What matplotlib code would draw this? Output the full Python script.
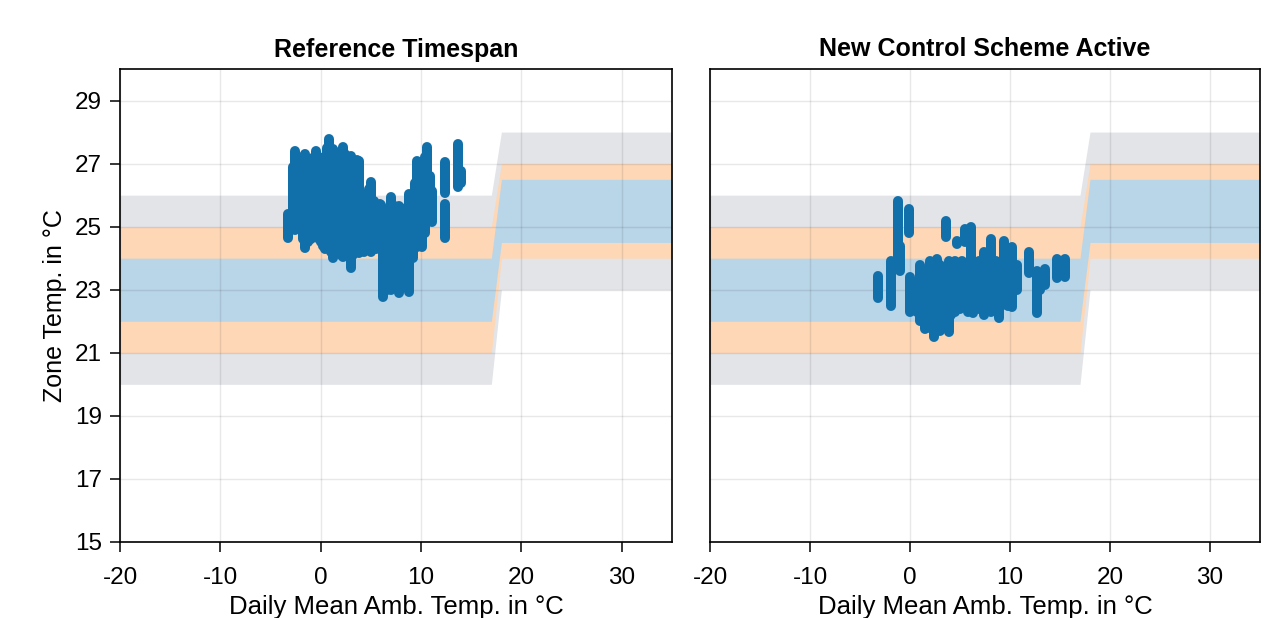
import matplotlib
matplotlib.use("Agg")
import matplotlib.pyplot as plt

plt.rcParams['font.family'] = ['Liberation Sans', 'DejaVu Sans']

# Comfort bands (ambient temp breakpoints)
band_x = [-20, 17, 18, 35]
gray_lo = [20, 20, 23, 23]
gray_hi = [26, 26, 28, 28]
orange_lo = [21, 21, 24, 24]
orange_hi = [25, 25, 27, 27]
blue_lo = [22, 22, 24.5, 24.5]
blue_hi = [24, 24, 26.5, 26.5]

# Daily strips of zone temperature: (daily mean ambient, min, max)
ref_x = [-3.3, -2.8, -2.6, -2.3, -2.1, -1.8, -1.6, -1.3, -1.0, -0.7, -0.5, -0.2,
         0.0, 0.2, 0.4, 0.6, 0.8, 1.0, 1.2, 1.5, 1.7, 2.0, 2.2, 2.4, 2.6, 2.8,
         3.0, 3.2, 3.4, 3.6, 3.8, 4.0, 4.3, 4.6, 4.8, 5.0, 5.3, 5.5, 5.7, 5.9,
         6.0, 6.2, 6.4, 6.6, 6.8, 7.0, 7.2, 7.4, 7.6, 7.8, 8.0, 8.2, 8.5, 8.8,
         9.0, 9.2, 9.4, 9.6, 9.9, 10.1, 10.4, 10.6, 10.9, 11.1, 12.4, 12.4,
         13.7, 14.0]
ref_lo = [24.63, 25.0, 24.89, 25.0, 25.2, 24.6, 24.31, 24.5, 24.6, 24.7, 24.82,
          24.6, 24.5, 24.4, 24.3, 24.4, 24.31, 24.2, 24.0, 24.3, 24.2, 24.1,
          24.03, 24.3, 24.5, 24.2, 23.68, 24.1, 24.2, 24.3, 24.16, 24.3, 24.2,
          24.25, 24.3, 24.19, 24.3, 24.3, 24.4, 24.31, 24.3, 22.76, 23.0, 23.0,
          23.3, 22.98, 23.2, 23.3, 23.1, 22.89, 23.5, 24.3, 24.1, 22.92, 24.0,
          24.0, 24.6, 24.34, 24.6, 24.35, 24.8, 25.3, 25.2, 25.14, 26.06, 24.63,
          26.25, 26.38]
ref_hi = [25.40, 26.9, 27.40, 27.2, 27.0, 27.2, 27.30, 27.0, 27.1, 27.2, 27.40,
          27.2, 27.0, 27.1, 27.2, 27.5, 27.78, 27.4, 27.45, 27.2, 27.3, 27.4,
          27.53, 27.3, 27.1, 27.2, 27.24, 27.0, 27.0, 27.1, 27.08, 26.0, 25.7,
          25.94, 26.2, 26.42, 25.8, 25.4, 25.6, 25.72, 25.7, 25.2, 25.5, 25.4,
          25.6, 25.94, 25.7, 25.5, 25.4, 25.65, 25.5, 25.3, 25.6, 26.03, 25.6,
          25.4, 26.4, 27.08, 26.8, 26.6, 27.2, 27.53, 26.6, 26.13, 27.05, 25.72,
          27.62, 26.76]

new_x = [-3.2, -1.9, -1.2, -1.0, -0.1, 0.0, 0.3, 0.7, 1.0, 1.2, 1.5, 1.8, 2.0,
         2.2, 2.4, 2.7, 3.0, 3.3, 3.6, 3.9, 4.1, 4.3, 4.5, 4.7, 5.0, 5.2, 5.5,
         5.8, 6.1, 6.3, 6.6, 6.9, 7.1, 7.4, 7.7, 7.9, 8.1, 8.3, 8.6, 8.9, 9.1,
         9.4, 9.6, 9.8, 10.2, 10.7, 11.9, 12.7, 13.0, 13.5, 14.7, 15.5]
new_lo = [22.73, 22.5, 23.68, 23.6, 24.79, 22.28, 22.4, 22.3, 22.0, 22.2, 21.77,
          22.0, 21.8, 22.0, 21.49, 22.1, 21.7, 22.0, 24.66, 21.65, 22.2, 22.5,
          22.3, 24.45, 22.4, 22.5, 24.5, 22.3, 23.14, 22.25, 22.5, 22.4, 22.6,
          22.2, 22.6, 22.5, 22.28, 22.6, 22.8, 22.1, 22.5, 23.24, 22.8, 22.5,
          22.44, 23.0, 23.52, 22.25, 23.0, 23.14, 23.36, 23.4]
new_hi = [23.43, 23.9, 25.8, 24.4, 25.56, 23.4, 23.2, 23.1, 23.8, 23.6, 23.0,
          23.7, 23.9, 23.6, 23.43, 23.97, 23.8, 23.6, 25.17, 23.9, 23.8, 23.7,
          23.9, 24.55, 23.8, 23.9, 24.92, 23.8, 25.0, 23.72, 23.8, 23.9, 23.7,
          24.2, 23.8, 23.9, 24.6, 23.8, 23.9, 23.6, 23.8, 24.55, 24.0, 23.6,
          24.35, 23.8, 24.2, 23.6, 23.5, 23.66, 23.97, 23.97]

titles = ["Reference Timespan", "New Control Scheme Active"]
xticks = [-20, -10, 0, 10, 20, 30]
yticks = [15, 17, 19, 21, 23, 25, 27, 29]

fig = plt.figure(figsize=(12.69, 6.18), dpi=100)
ax1 = fig.add_axes([120/1269, 1-542/618, 552/1269, 473/618])
ax2 = fig.add_axes([710/1269, 1-542/618, 550/1269, 473/618])

data = [(ref_x, ref_lo, ref_hi), (new_x, new_lo, new_hi)]
for i, ax in enumerate([ax1, ax2]):
    ax.fill_between(band_x, gray_lo, gray_hi, color='#e3e4e8', lw=0, zorder=1)
    ax.fill_between(band_x, orange_lo, orange_hi, color='#fdd7b6', lw=0, zorder=1)
    ax.fill_between(band_x, blue_lo, blue_hi, color='#b9d5e8', lw=0, zorder=1)
    xs, lo, hi = data[i]
    ax.vlines(xs, lo, hi, colors='#1170aa', linewidth=7.2, capstyle='round', zorder=3)
    ax.set_xlim(-20, 35)
    ax.set_ylim(15, 30)
    ax.set_xticks(xticks)
    ax.set_xticklabels([str(t) for t in xticks])
    ax.set_yticks(yticks)
    ax.grid(True, color='#000000', alpha=0.09, lw=1)
    ax.set_title(titles[i], fontsize=18, fontweight='bold', pad=9)
    ax.set_xlabel("Daily Mean Amb. Temp. in °C", fontsize=18.5, labelpad=4)
    for s in ax.spines.values():
        s.set_linewidth(1.2)
    ax.tick_params(labelsize=17.5, length=7, width=1.1, direction='out', pad=6)
    ax.tick_params(axis='x', pad=11)

ax1.set_ylabel("Zone Temp. in °C", fontsize=18, labelpad=6)
ax2.tick_params(axis='y', left=False, labelleft=False)

fig.savefig("out.png", dpi=100)
